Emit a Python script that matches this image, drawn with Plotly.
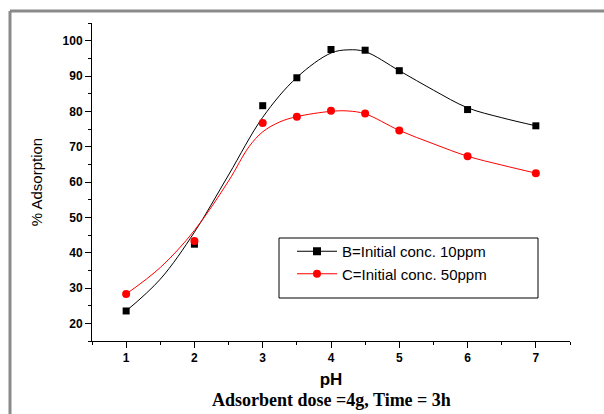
import plotly.graph_objects as go

# measured data points
ph = [1, 2, 3, 3.5, 4, 4.5, 5, 6, 7]
ads_10ppm = [23.5, 42.4, 81.6, 89.5, 97.5, 97.3, 91.5, 80.5, 75.9]
ads_50ppm = [28.3, 43.3, 76.7, 78.5, 80.2, 79.4, 74.6, 67.3, 62.5]

# smoothed fit curves
fit_x_10 = [1, 1.5, 2, 2.5, 3, 3.5, 4, 4.25, 4.5, 5, 5.5, 6, 6.5, 7]
fit_y_10 = [23.5, 32.5, 45.8, 62.0, 78.3, 89.6, 96.5, 97.4, 96.9, 91.5, 86.0, 81.0, 78.2, 75.9]
fit_x_50 = [1, 1.5, 2, 2.5, 2.8, 3, 3.25, 3.5, 4, 4.25, 4.5, 5, 5.5, 6, 6.5, 7]
fit_y_50 = [28.3, 35.8, 46.3, 60.3, 70.0, 74.2, 77.0, 78.5, 80.0, 80.1, 79.3, 74.6, 70.8, 67.3, 64.8, 62.5]

names = ["B=Initial conc. 10ppm", "C=Initial conc. 50ppm"]
colors = ["#000000", "#ff0000"]
symbols = ["square", "circle"]

fig = go.Figure()
for fx, fy, c in [(fit_x_10, fit_y_10, colors[0]), (fit_x_50, fit_y_50, colors[1])]:
    fig.add_trace(go.Scatter(x=fx, y=fy, mode="lines", line=dict(color=c, width=1, shape="spline", smoothing=1.0),
                             showlegend=False, hoverinfo="skip"))
for ys, c, s in [(ads_10ppm, colors[0], symbols[0]), (ads_50ppm, colors[1], symbols[1])]:
    fig.add_trace(go.Scatter(x=ph, y=ys, mode="markers", marker=dict(color=c, symbol=s, size=7 if s == "square" else 8),
                             showlegend=False))
for n, c, s in zip(names, colors, symbols):
    fig.add_trace(go.Scatter(x=[None], y=[None], mode="lines+markers", name=n,
                             line=dict(color=c, width=1), marker=dict(color=c, symbol=s, size=8)))

W, H = 604, 414
L, R, T, B = 92, 34, 23, 73
pw, ph_ = W - L - R, H - T - B

def px(x):
    return (x - L) / pw

def py(y):
    return (H - B - y) / ph_

fig.update_layout(
    width=W, height=H,
    margin=dict(l=L, r=R, t=T, b=B),
    paper_bgcolor="white", plot_bgcolor="white",
    font=dict(family="Arial, Liberation Sans, sans-serif", color="black"),
    legend=dict(x=px(292), y=py(235), xanchor="left", yanchor="top",
                bgcolor="rgba(0,0,0,0)", borderwidth=0,
                font=dict(size=15, family="Arial, Liberation Sans, sans-serif"),
                tracegroupgap=0, itemwidth=40),
    shapes=[
        dict(type="rect", xref="paper", yref="paper", x0=px(279), x1=px(538), y0=py(298), y1=py(238),
             line=dict(color="black", width=1), fillcolor="rgba(0,0,0,0)", layer="above"),
        dict(type="line", xref="paper", yref="paper", x0=px(10), x1=px(610), y0=py(11), y1=py(11),
             line=dict(color="#8a8a8a", width=3)),
        dict(type="line", xref="paper", yref="paper", x0=px(10), x1=px(10), y0=py(11), y1=py(420),
             line=dict(color="#8a8a8a", width=3)),
    ],
    annotations=[
        dict(text="<b>Adsorbent dose =4g, Time = 3h</b>", xref="paper", yref="paper",
             x=px(331), y=py(400), xanchor="center", yanchor="middle", showarrow=False,
             font=dict(family="Liberation Serif, Times New Roman, serif", size=18, color="black")),
    ],
)
fig.update_xaxes(
    range=[0.5, 7.5], tickvals=[1, 2, 3, 4, 5, 6, 7], showgrid=False, zeroline=False,
    showline=True, linecolor="black", linewidth=1, ticks="outside", ticklen=6, tickcolor="black",
    minor=dict(dtick=0.5, ticks="outside", ticklen=3, tickcolor="black", showgrid=False),
    tickfont=dict(size=12, weight="bold"),
    title=dict(text="<b>pH</b>", font=dict(size=17), standoff=8),
)
fig.update_yaxes(
    range=[15, 105], tickvals=[20, 30, 40, 50, 60, 70, 80, 90, 100], showgrid=False, zeroline=False,
    showline=True, linecolor="black", linewidth=1, ticks="outside", ticklen=6, tickcolor="black",
    minor=dict(dtick=5, ticks="outside", ticklen=3, tickcolor="black", showgrid=False),
    tickfont=dict(size=12, weight="bold"),
    title=dict(text="% Adsorption", font=dict(size=15), standoff=16),
)
fig.write_html("out.html")
